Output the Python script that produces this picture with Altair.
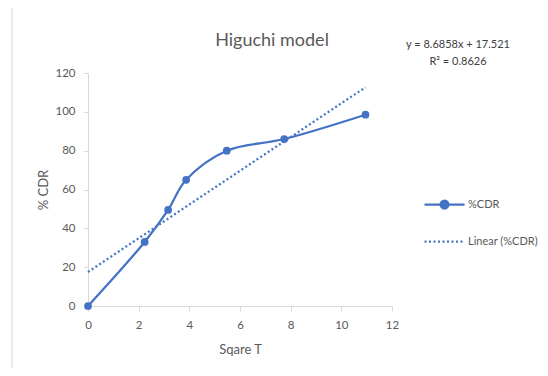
import altair as alt
import pandas as pd

# Data
sqrt_t = [0, 2.236, 3.162, 3.873, 5.477, 7.746, 10.954]
cdr = [0, 33, 49.5, 65, 80, 86, 98.5]
slope = 8.6858
intercept = 17.521
r2 = 0.8626
series_name = "%CDR"
trend_name = "Linear (%CDR)"
title_text = "Higuchi model"
x_title = "Sqare T"
y_title = "% CDR"
x_ticks = [0, 2, 4, 6, 8, 10, 12]
y_ticks = [0, 20, 40, 60, 80, 100, 120]

BLUE = "#4472C4"
GRAY = "#595959"
AXIS = "#D9D9D9"
FONT = "Lato"

df = pd.DataFrame({"x": sqrt_t, "y": cdr, "series": series_name})
x_min, x_max = min(sqrt_t), max(sqrt_t)
trend = pd.DataFrame({
    "x": [x_min, x_max],
    "y": [slope * x_min + intercept, slope * x_max + intercept],
    "trend": trend_name,
})
eq = pd.DataFrame({"label": [f"y = {slope}x + {intercept}\nR\u00b2 = {r2}"]})

xscale = alt.Scale(domain=[0, 12], nice=False)
yscale = alt.Scale(domain=[0, 120], nice=False)

xaxis = alt.Axis(values=x_ticks, title=x_title, grid=False, domainColor=AXIS,
                 tickColor=AXIS, tickSize=5, labelPadding=8, labelColor=GRAY,
                 labelFontSize=11.5, labelFont=FONT, titleFont=FONT,
                 titleFontSize=13, titleColor=GRAY, titleFontWeight="normal",
                 titlePadding=13, labelOverlap=False, labelFlush=False)
yaxis = alt.Axis(values=y_ticks, title=y_title, grid=False, domainColor=AXIS,
                 tickColor=AXIS, tickSize=4, labelPadding=9, labelColor=GRAY,
                 labelFontSize=11.5, labelFont=FONT, titleFont=FONT,
                 titleFontSize=13, titleColor=GRAY, titleFontWeight="normal",
                 titlePadding=4, labelOverlap=False, labelFlush=False)

X = alt.X("x:Q", scale=xscale, axis=xaxis)
Y = alt.Y("y:Q", scale=yscale, axis=yaxis)

line_symbol = ("M-1,0H1M-0.2,0A0.2,0.2 0 1,0 0.2,0"
               "A0.2,0.2 0 1,0 -0.2,0Z")

line = alt.Chart(df).mark_line(interpolate="catmull-rom", strokeWidth=2.25).encode(
    x=X, y=Y,
    color=alt.Color("series:N", scale=alt.Scale(domain=[series_name], range=[BLUE]),
                    legend=alt.Legend(title=None, orient="none", legendX=335, legendY=110,
                                      symbolType=line_symbol, symbolSize=1600,
                                      symbolStrokeWidth=2.25, symbolFillColor=BLUE,
                                      labelFont=FONT, labelFontSize=11, labelColor=GRAY,
                                      labelOffset=2)),
)

points = alt.Chart(df).mark_circle(size=60, opacity=1, color=BLUE).encode(x=X, y=Y)

trend_line = alt.Chart(trend).mark_line(strokeWidth=2.25, color=BLUE).encode(
    x=X, y=Y,
    strokeDash=alt.StrokeDash("trend:N",
                              scale=alt.Scale(domain=[trend_name], range=[[2, 2.5]]),
                              legend=alt.Legend(title=None, orient="none", legendX=335,
                                                legendY=147, symbolType="stroke",
                                                symbolSize=1600, symbolStrokeWidth=2.25,
                                                symbolStrokeColor=BLUE,
                                                labelFont=FONT, labelFontSize=11,
                                                labelColor=GRAY, labelOffset=2)),
)

eq_text = alt.Chart(eq).mark_text(
    lineBreak="\n", lineHeight=17, align="center", baseline="alphabetic",
    font=FONT, fontSize=11, color="#404040",
).encode(x=alt.value(370), y=alt.value(-25), text="label:N")

border = alt.Chart(alt.Data(values=[{}])).mark_rect(
    fill=None, stroke=AXIS, strokeWidth=1,
).encode(x=alt.value(-76), y=alt.value(-66), x2=alt.value(600), y2=alt.value(400))

chart = alt.layer(border, trend_line, line, points, eq_text).properties(
    width=304, height=233,
    title=alt.TitleParams(title_text, font=FONT, fontSize=18, fontWeight="normal",
                          color=GRAY, anchor="middle", dx=32, offset=-57,
                          baseline="alphabetic"),
    autosize=alt.AutoSizeParams(type="none"),
    padding={"left": 80, "top": 65, "right": 148, "bottom": 62},
).configure_view(stroke=None).resolve_legend(color="independent", strokeDash="independent")

chart.save("out.html", embed_options={"renderer": "svg", "actions": False})
